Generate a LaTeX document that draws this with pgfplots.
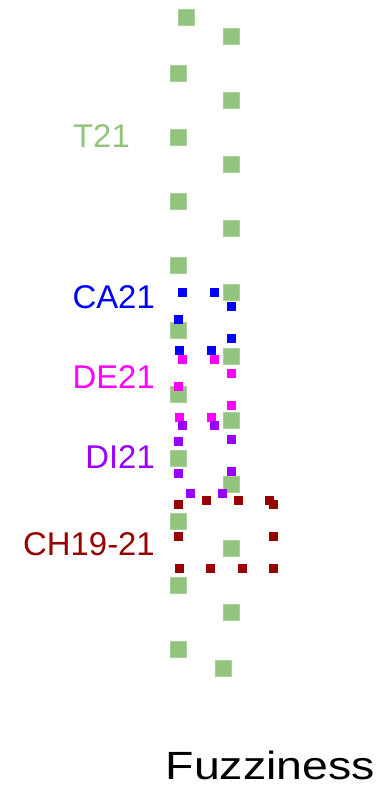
\documentclass[border=0pt]{standalone}
\usepackage{pgfplots}
\pgfplotsset{compat=1.18}
\usepackage{fontspec}
\setmainfont{Liberation Sans}
\definecolor{tgreen}{HTML}{93C47D}
\definecolor{cablue}{HTML}{0000FF}
\definecolor{demag}{HTML}{FF00FF}
\definecolor{dipurple}{HTML}{9900FF}
\definecolor{chred}{HTML}{990000}
\begin{document}
\begin{tikzpicture}[lab/.style={anchor=base east, inner sep=0pt, font=\fontsize{33}{36}\selectfont}]
\useasboundingbox (0,0) rectangle (382bp,788bp);
\begin{axis}[
  at={(0,0)}, anchor=south west,
  scale only axis, width=382bp, height=788bp,
  xmin=0, xmax=382, ymin=0, ymax=788, y dir=reverse,
  hide axis, clip=false,
  only marks, mark=square*,
]
% T21
\addplot[mark=square*, mark size=8bp, color=tgreen, mark options={fill=tgreen, draw=tgreen!80!white}] coordinates {
(186,17) (231,36) (178,73) (231,100) (178,137) (231,164) (178,201) (231,228)
(178,265) (231,292) (178,330) (231,356) (178,394) (231,420) (178,458) (231,484)
(178,521) (231,548) (178,585) (231,612) (178,649) (223,668)};
% CA21
\addplot[mark=square*, mark size=4bp, color=cablue] coordinates {
(182,292) (214,292) (231,306) (231,338) (211,350) (179,350) (178,319)};
% DE21
\addplot[mark=square*, mark size=4bp, color=demag] coordinates {
(182,359) (214,359) (231,373) (231,405) (211,417) (179,417) (178,386)};
% DI21
\addplot[mark=square*, mark size=4bp, color=dipurple] coordinates {
(182,425) (214,425) (231,439) (231,471) (222,493) (190,493) (178,473) (178,441)};
% CH19-21
\addplot[mark=square*, mark size=4bp, color=chred] coordinates {
(178,504) (206,500) (238,500) (269,500) (273,504) (273,536) (273,568)
(242,568) (210,568) (179,568) (178,536)};
\node[lab, text=tgreen] at (axis cs:130,148) {T21};
\node[lab, text=cablue] at (axis cs:155,308) {CA21};
\node[lab, text=demag] at (axis cs:155,388) {DE21};
\node[lab, text=dipurple] at (axis cs:155,468) {DI21};
\node[lab, text=chred] at (axis cs:155,555) {CH19-21};
\node[anchor=base east, inner sep=0pt, xscale=1.18, text=black, font=\fontsize{39.5}{44}\selectfont] at (axis cs:375,779) {Fuzziness};
\end{axis}
\end{tikzpicture}
\end{document}
